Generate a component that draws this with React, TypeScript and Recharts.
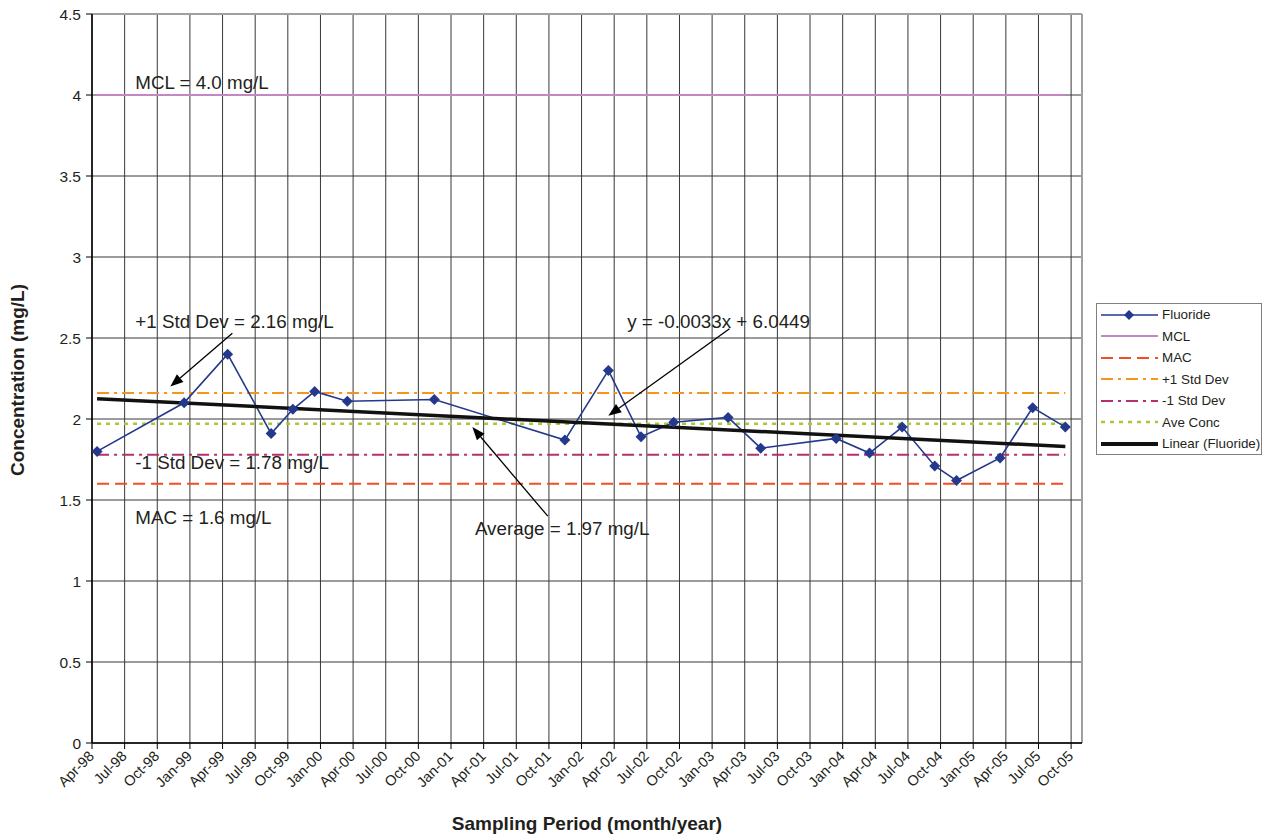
import {
  LineChart,
  Line,
  XAxis,
  YAxis,
  CartesianGrid,
  ReferenceLine,
  ReferenceDot,
} from "recharts";

const FONT = '"Liberation Sans", Arial, Helvetica, sans-serif';
const TEXT = "#231f20";

// quarterly tick labels, Apr-98 .. Oct-05
const QUARTER_LABELS = [
  "Apr-98", "Jul-98", "Oct-98",
  "Jan-99", "Apr-99", "Jul-99", "Oct-99",
  "Jan-00", "Apr-00", "Jul-00", "Oct-00",
  "Jan-01", "Apr-01", "Jul-01", "Oct-01",
  "Jan-02", "Apr-02", "Jul-02", "Oct-02",
  "Jan-03", "Apr-03", "Jul-03", "Oct-03",
  "Jan-04", "Apr-04", "Jul-04", "Oct-04",
  "Jan-05", "Apr-05", "Jul-05", "Oct-05",
];

const Y_TICKS = [0, 0.5, 1, 1.5, 2, 2.5, 3, 3.5, 4, 4.5];

const SAMPLE_DATES = [
  "1998-04-15", "1998-12-15", "1999-04-15", "1999-08-15", "1999-10-15",
  "1999-12-15", "2000-03-15", "2000-11-15", "2001-11-15", "2002-03-15",
  "2002-06-15", "2002-09-15", "2003-02-15", "2003-05-15", "2003-12-13",
  "2004-03-15", "2004-06-15", "2004-09-15", "2004-11-15", "2005-03-15",
  "2005-06-15", "2005-09-15",
];

const FLUORIDE = [
  1.8, 2.1, 2.4, 1.91, 2.06, 2.17, 2.11, 2.12, 1.87, 2.3, 1.89,
  1.98, 2.01, 1.82, 1.88, 1.79, 1.95, 1.71, 1.62, 1.76, 2.07, 1.95,
];

const MCL = 4.0;
const MAC = 1.6;
const PLUS_SD = 2.16;
const MINUS_SD = 1.78;
const AVE_CONC = 1.97;
// linear trend value at first and last sample
const TREND_ENDS = [2.125, 1.83];

// months since 1 Apr 1998
function monthOffset(d: string) {
  const [y, m, day] = d.split("-").map(Number);
  return (y - 1998) * 12 + (m - 4) + (day - 1) / 30;
}

const data = SAMPLE_DATES.map((d, i) => ({
  t: monthOffset(d),
  fluoride: FLUORIDE[i],
  mcl: MCL,
  mac: MAC,
  plusSd: PLUS_SD,
  minusSd: MINUS_SD,
  ave: AVE_CONC,
}));

const trendData = [
  { t: data[0].t, trend: TREND_ENDS[0] },
  { t: data[data.length - 1].t, trend: TREND_ENDS[1] },
];

const X_TICKS = QUARTER_LABELS.map((_, i) => i * 3);

const SERIES = [
  { key: "mcl", name: "MCL", color: "#c386c6", width: 2, dash: undefined },
  { key: "mac", name: "MAC", color: "#f04e23", width: 2, dash: "12 6" },
  { key: "plusSd", name: "+1 Std Dev", color: "#f7941d", width: 2, dash: "12 5 3 5" },
  { key: "minusSd", name: "-1 Std Dev", color: "#b5316b", width: 2, dash: "12 5 3 5" },
  { key: "ave", name: "Ave Conc", color: "#a6c93a", width: 2.5, dash: "4 5" },
];

const LEGEND = [
  { name: "Fluoride", color: "#24388c", width: 1.5, dash: undefined, marker: true },
  ...SERIES.map((s) => ({ ...s, marker: false })),
  { name: "Linear (Fluoride)", color: "#111", width: 4, dash: undefined, marker: false },
];

const NOTES = [
  { text: "MCL = 4.0 mg/L", x: 3.98, y: 4.04 },
  { text: "+1 Std Dev = 2.16 mg/L", x: 3.98, y: 2.56 },
  { text: "-1 Std Dev = 1.78 mg/L", x: 3.98, y: 1.69 },
  { text: "MAC = 1.6 mg/L", x: 3.98, y: 1.35 },
  { text: "Average = 1.97 mg/L", x: 35.2, y: 1.285 },
  { text: "y = -0.0033x + 6.0449", x: 49.2, y: 2.56 },
];

const ARROWS = [
  { from: { x: 12.9, y: 2.53 }, to: { x: 7.2, y: 2.2 } },
  { from: { x: 41.9, y: 1.4 }, to: { x: 34.96, y: 1.95 } },
  { from: { x: 58.6, y: 2.557 }, to: { x: 47.46, y: 2.02 } },
];

const Diamond = (props: any) => {
  const { cx, cy } = props;
  if (cx == null || cy == null) return null;
  const r = 5.5;
  return (
    <polygon
      points={`${cx},${cy - r} ${cx + r},${cy} ${cx},${cy + r} ${cx - r},${cy}`}
      fill="#24388c"
    />
  );
};

const Arrow = (props: any) => {
  const { x1, y1, x2, y2 } = props;
  const ang = Math.atan2(y2 - y1, x2 - x1);
  const len = 13;
  const half = 5;
  const bx = x2 - len * Math.cos(ang);
  const by = y2 - len * Math.sin(ang);
  const px = -Math.sin(ang) * half;
  const py = Math.cos(ang) * half;
  return (
    <g>
      <line x1={x1} y1={y1} x2={bx} y2={by} stroke="#000" strokeWidth={1.3} />
      <polygon points={`${x2},${y2} ${bx + px},${by + py} ${bx - px},${by - py}`} fill="#000" />
    </g>
  );
};

const XTick = ({ x, y, payload }: any) => {
  const ax = x + 3;
  const ay = y + 6;
  return (
    <text
      x={ax}
      y={ay}
      transform={`rotate(-45 ${ax} ${ay})`}
      textAnchor="end"
      fontSize={14.5}
      fontFamily={FONT}
      fill={TEXT}
    >
      {QUARTER_LABELS[Math.round(payload.value / 3)]}
    </text>
  );
};

export default function App() {
  return (
    <div style={{ position: "absolute", left: 0, top: 0, width: 1263, height: 836, background: "#fff", fontFamily: FONT }}>
      <LineChart
        width={1263}
        height={836}
        data={data}
        margin={{ top: 14, right: 181, left: 0, bottom: 0 }}
      >
        <CartesianGrid stroke="#383838" strokeWidth={1} />
        <XAxis
          dataKey="t"
          type="number"
          domain={[0, 91]}
          ticks={X_TICKS}
          interval={0}
          height={93}
          tick={<XTick />}
          tickSize={6}
          axisLine={{ stroke: "#000", strokeWidth: 1.5 }}
          tickLine={{ stroke: "#000" }}
          allowDataOverflow
        />
        <YAxis
          type="number"
          domain={[0, 4.5]}
          ticks={Y_TICKS}
          interval={0}
          width={92}
          tickSize={6}
          tickMargin={5}
          tick={{ fontSize: 15.5, fill: TEXT, fontFamily: FONT }}
          axisLine={{ stroke: "#000", strokeWidth: 1.5 }}
          tickLine={{ stroke: "#000" }}
        />
        <ReferenceLine y={4.5} stroke="#a0a0a0" strokeWidth={2} />
        <ReferenceLine x={91} stroke="#a0a0a0" strokeWidth={2} />
        {SERIES.map((s) => (
          <Line
            key={s.key}
            dataKey={s.key}
            name={s.name}
            type="linear"
            stroke={s.color}
            strokeWidth={s.width}
            strokeDasharray={s.dash}
            dot={false}
            activeDot={false}
            isAnimationActive={false}
          />
        ))}
        <Line
          dataKey="fluoride"
          name="Fluoride"
          type="linear"
          stroke="#24388c"
          strokeWidth={1.6}
          dot={<Diamond />}
          activeDot={false}
          isAnimationActive={false}
        />
        <Line
          data={trendData}
          dataKey="trend"
          name="Linear (Fluoride)"
          type="linear"
          stroke="#111"
          strokeWidth={3.5}
          dot={false}
          activeDot={false}
          isAnimationActive={false}
        />
        {ARROWS.map((a, i) => (
          <ReferenceLine key={i} segment={[a.from, a.to]} ifOverflow="visible" shape={Arrow} />
        ))}
        {NOTES.map((n) => (
          <ReferenceDot
            key={n.text}
            x={n.x}
            y={n.y}
            r={1}
            ifOverflow="visible"
            shape={(p: any) => (
              <text x={p.cx} y={p.cy} fontSize={18.8} fontFamily={FONT} fill={TEXT}>
                {n.text}
              </text>
            )}
          />
        ))}
      </LineChart>

      <div
        style={{
          position: "absolute",
          left: 18,
          top: 380,
          transform: "translate(-50%, -50%) rotate(-90deg)",
          whiteSpace: "nowrap",
          fontWeight: "bold",
          fontSize: 19,
          color: TEXT,
        }}
      >
        Concentration (mg/L)
      </div>
      <div
        style={{
          position: "absolute",
          left: 92,
          width: 990,
          top: 813,
          textAlign: "center",
          fontWeight: "bold",
          fontSize: 19,
          color: TEXT,
        }}
      >
        Sampling Period (month/year)
      </div>

      <div
        style={{
          position: "absolute",
          left: 1096,
          top: 303,
          width: 166,
          height: 152,
          border: "1px solid #808080",
          boxSizing: "border-box",
          background: "#fff",
          paddingTop: 0,
        }}
      >
        {LEGEND.map((l) => (
          <div key={l.name} style={{ display: "flex", alignItems: "center", height: 21.5, fontSize: 13.4, color: TEXT }}>
            <svg width={62} height={14} style={{ flex: "none", marginLeft: 3 }}>
              <line x1={1} y1={7} x2={58} y2={7} stroke={l.color} strokeWidth={l.width} strokeDasharray={l.dash} />
              {l.marker && <polygon points="29,2 34,7 29,12 24,7" fill={l.color} />}
            </svg>
            <span>{l.name}</span>
          </div>
        ))}
      </div>
    </div>
  );
}
